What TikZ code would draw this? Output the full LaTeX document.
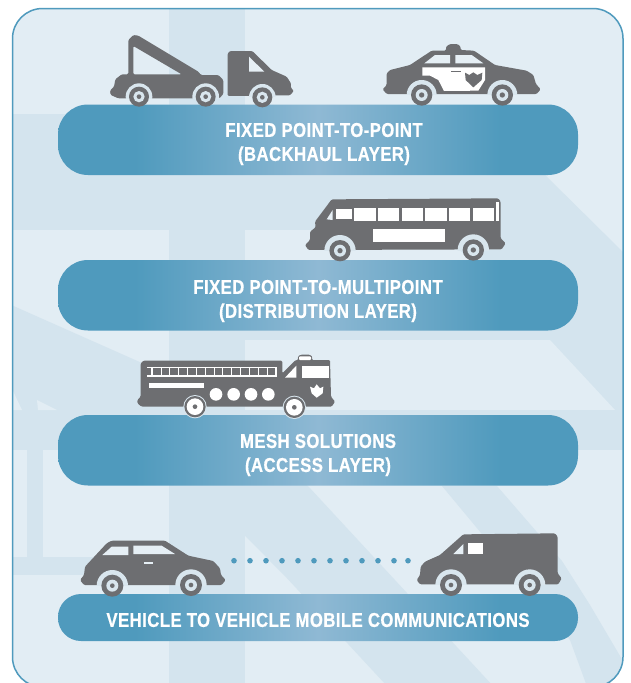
\documentclass[tikz,border=0pt]{standalone}
\usepackage{fontspec}
\newfontfamily\labfont{Liberation Sans}[FakeStretch=0.84,LetterSpace=2,BoldFeatures={FakeBold=0.5}]
\definecolor{pa}{HTML}{4F9ABD}
\definecolor{pb}{HTML}{8FB9D4}
\definecolor{bgl}{HTML}{E2EDF4}
\definecolor{bgd}{HTML}{D4E4EE}
\definecolor{grayv}{HTML}{6D6E71}
\definecolor{halo}{HTML}{D9E6EE}
\definecolor{glass}{HTML}{E6EFF5}
\pgfdeclarehorizontalshading{pillshade}{100bp}{color(0bp)=(pa); color(25bp)=(pa); color(32.4bp)=(pa); color(50bp)=(pb); color(67.6bp)=(pa); color(75bp)=(pa); color(100bp)=(pa)}
\tikzset{
  body/.style={fill=grayv,rounded corners=1.2pt},
  pill/.style={shading=pillshade},
  lab/.style={text=white,align=center,font=\labfont\bfseries\fontsize{20}{24}\selectfont,inner sep=0pt},
  glassy/.style={fill=glass},
  cutout/.style={fill=white},
  dark/.style={fill=bgd},
  light/.style={fill=bgl}
}
% wheel: x, y, bottom of body, halo radius, outer, inner, hub
\newcommand{\wheelat}[7]{%
  \begin{scope}
    \clip (#1-#4,#2-#4) rectangle (#1+#4,#3);
    \fill[halo] (#1,#2) circle (#4);
  \end{scope}
  \fill[grayv] (#1,#2) circle (#5);
  \fill[halo] (#1,#2) circle (#6);
  \fill[grayv] (#1,#2) circle (#7);
}
\newcommand{\firewheel}[2]{%
  \fill[halo] (#1,#2) circle (35);
  \fill[grayv] (#1,#2) circle (32);
  \fill[white] (#1,#2) circle (25);
  \fill[grayv] (#1,#2) circle (7);
}
\begin{document}
\begin{tikzpicture}[x=1pt,y=-1pt]
\useasboundingbox (0,0) rectangle (631,683);
\fill[white] (0,0) rectangle (631,683);
% panel
\begin{scope}
  \clip[rounded corners=30pt] (12.5,8.5) rectangle (623,687);
  \fill[bgl] (0,0) rectangle (631,690);
  % vertical band
  \fill[dark] (169,0) rectangle (245,690);
  % upper wide dark area
  \fill[dark] (0,114) -- (500,114) -- (545,175) -- (623,252) -- (631,410) -- (0,410) -- cycle;
  % light areas above diagonal on left and behind bus
  \fill[light] (0,230) rectangle (169,375);
  \fill[dark] (0,300) -- (169,375) -- (0,375) -- cycle;
  \fill[dark] (0,370) rectangle (169,420);
  \fill[light] (245,230) -- (430,230) -- (476,262) -- (245,262) -- cycle;
  % light slab behind truck
  \fill[light] (245,340) -- (550,340) -- (615,410) -- (245,410) -- cycle;
  % band below slab
  \fill[dark] (245,410) rectangle (631,450);
  \fill[dark] (0,420) rectangle (169,450);
  % small triangles
  \fill[light] (13,391) -- (22,410) -- (13,410) -- cycle;
  \fill[light] (37,400) -- (57,410) -- (38,410) -- cycle;
  % lower left
  \fill[light] (43,450) rectangle (169,557);
  \fill[light] (10,450) rectangle (27,557);
  \fill[dark] (10,450) rectangle (13,557);
  \fill[dark] (27,450) rectangle (43,575);
  \fill[dark] (0,557) rectangle (169,575);
  % big diagonal stripe
  \fill[dark] (245,450) -- (272,450) -- (308,486) -- (506,700) -- (400,700) -- (284,575) -- (245,536) -- cycle;
  \fill[light] (245,536) -- (267,558) -- (245,558) -- cycle;
  % narrow diagonal stripe
  \fill[dark] (442,486) -- (497,486) -- (562,561) -- (590,605) -- (623,661) -- (631,700) -- (592,700) -- (570,640) -- cycle;
\end{scope}
\draw[pa,line width=1.5pt,rounded corners=30pt] (12.5,8.5) rectangle (623,687);

% pills
\shade[pill,rounded corners=30pt] (58,104.5) rectangle (578,175);
\shade[pill,rounded corners=30pt] (58,260) rectangle (578,330.5);
\shade[pill,rounded corners=30pt] (58,415) rectangle (578,485.5);
\shade[pill,rounded corners=23pt] (58,594) rectangle (578,641);
% pill labels
\node[lab] (backhaul) at (324,144) {FIXED POINT-TO-POINT\\(BACKHAUL LAYER)};
\node[lab] (distribution) at (318,301) {FIXED POINT-TO-MULTIPOINT\\(DISTRIBUTION LAYER)};
\node[lab] (access) at (318,455) {MESH SOLUTIONS\\(ACCESS LAYER)};
\node[lab] (v2v) at (318,620) {VEHICLE TO VEHICLE MOBILE COMMUNICATIONS};

% tow truck
\begin{scope}[shift={(90,20)},scale=1/3]
  \fill[body,even odd rule] (60,212) -- (72,200) -- (76,178) -- (95,163) -- (115,163) -- (115,60) -- (130,45) -- (145,47) -- (325,155) -- (333,165) -- (385,165) -- (400,180) -- (400,222) -- (388,235) -- (85,235) -- (62,225) -- cycle
    (130,78) -- (275,163) -- (130,163) -- cycle;
  \wheelat{147}{230}{235}{40}{30}{17}{7}
  \wheelat{347}{230}{235}{40}{30}{17}{7}
  \fill[body] (413,100) -- (420,93) -- (487,93) -- (545,150) -- (590,170) -- (603,190) -- (603,205) -- (612,212) -- (600,226) -- (413,228) -- cycle;
  \fill[glassy] (477,110) -- (523,155) -- (477,155) -- cycle;
  \wheelat{517}{232}{228}{40}{30}{17}{7}
\end{scope}

% police car
\begin{scope}[shift={(370,30)},scale=1/3]
  \fill[body] (38,178) -- (50,165) -- (50,130) -- (60,120) -- (120,105) -- (185,62) -- (228,62) -- (228,50) -- (240,42) -- (262,42) -- (272,50) -- (272,60) -- (312,62) -- (375,105) -- (470,122) -- (490,135) -- (498,162) -- (512,178) -- (500,192) -- (50,192) -- cycle;
  \fill[white] (157,112) -- (345,112) -- (345,150) -- (325,182) -- (222,183) -- (205,150) -- (180,137) -- (157,137) -- cycle;
  \fill[glassy] (163,100) -- (195,75) -- (240,75) -- (240,100) -- cycle;
  \fill[glassy] (256,75) -- (305,75) -- (340,100) -- (256,100) -- cycle;
  \fill[grayv] (243,122) rectangle (272,127);
  \fill[grayv] (285,128) -- (298,135) -- (310,127) -- (322,135) -- (337,128) -- (335,150) -- (310,172) -- (287,150) -- cycle;
  \wheelat{155}{195}{192}{45}{32}{18}{8}
  \wheelat{397}{195}{192}{45}{32}{18}{8}
\end{scope}

% bus
\begin{scope}[shift={(295,190)},scale=1/3]
  \fill[body] (30,165) -- (45,150) -- (45,125) -- (62,112) -- (60,95) -- (110,28) -- (610,25) -- (617,35) -- (617,145) -- (632,160) -- (620,178) -- (40,180) -- cycle;
  \fill[white] (124,57) rectangle (170,88);
  \foreach \a/\b in {178/243,250/313,320/384,391/455,462/525,533/596}{\fill[white] (\a,53) rectangle (\b,93);}
  \fill[white] (603,35) rectangle (612,92);
  \fill[glassy] (95,88) -- (113,60) -- (113,90) -- cycle;
  \fill[white] (233,118) rectangle (451,156);
  \wheelat{135}{182}{180}{47}{32}{18}{8}
  \wheelat{535}{180}{180}{47}{32}{18}{8}
\end{scope}

% fire engine
\begin{scope}[shift={(130,345)},scale=1/3]
  \fill[body] (22,165) -- (32,155) -- (32,55) -- (40,47) -- (457,47) -- (457,85) -- (497,45) -- (505,45) -- (503,35) -- (512,29) -- (540,29) -- (548,37) -- (545,45) -- (600,45) -- (603,155) -- (615,170) -- (605,185) -- (35,185) -- (22,175) -- cycle;
  \fill[white] (50,65) rectangle (440,95);
  \fill[grayv] (50,70) rectangle (64,90);
  \foreach \i in {0,...,13}{\fill[grayv] ({68+\i*26.5},70) rectangle ({91.5+\i*26.5},90);}
  \fill[white] (58,113) rectangle (222,128);
  \foreach \x in {258,311,363,415}{\fill[white] (\x,148) circle (19);}
  \fill[white] (465,98) -- (499,62) -- (499,98) -- cycle;
  \fill[white] (515,62) rectangle (597,100);
  \fill[white,rounded corners=1pt] (507,34) rectangle (543,45);
  \fill[white] (540,125) -- (552,130) -- (560,118) -- (570,130) -- (580,125) -- (578,145) -- (560,158) -- (545,145) -- cycle;
  \firewheel{195}{185}
  \firewheel{493}{187}
\end{scope}

% car
\begin{scope}[shift={(70,525)},scale=1/3]
  \fill[body] (30,165) -- (42,150) -- (45,125) -- (110,55) -- (125,47) -- (285,47) -- (355,92) -- (430,108) -- (450,130) -- (453,150) -- (467,165) -- (455,180) -- (42,180) -- cycle;
  \fill[glassy] (97,90) -- (125,65) -- (175,65) -- (175,90) -- cycle;
  \fill[glassy] (190,62) -- (275,62) -- (315,87) -- (190,87) -- cycle;
  \fill[glassy] (221,112) rectangle (248,118);
  \wheelat{127}{182}{180}{47}{33}{18}{7}
  \wheelat{363}{180}{180}{47}{33}{18}{7}
\end{scope}

% van
\begin{scope}[shift={(320,525)},scale=1/3]
  \fill[body] (290,165) -- (300,150) -- (302,125) -- (315,110) -- (360,90) -- (430,28) -- (705,25) -- (713,35) -- (713,145) -- (725,160) -- (715,178) -- (300,178) -- cycle;
  \fill[glassy] (400,87) -- (430,57) -- (430,87) -- cycle;
  \fill[white] (443,54) rectangle (489,87);
  \wheelat{393}{180}{178}{47}{33}{18}{7}
  \wheelat{629}{180}{178}{47}{33}{18}{7}
\end{scope}

% dots
\foreach \x in {234,250,266,282,298,314,330,346,362,378,394,408}{\fill[pa] (\x,560.7) circle (2.8);}
\end{tikzpicture}
\end{document}
